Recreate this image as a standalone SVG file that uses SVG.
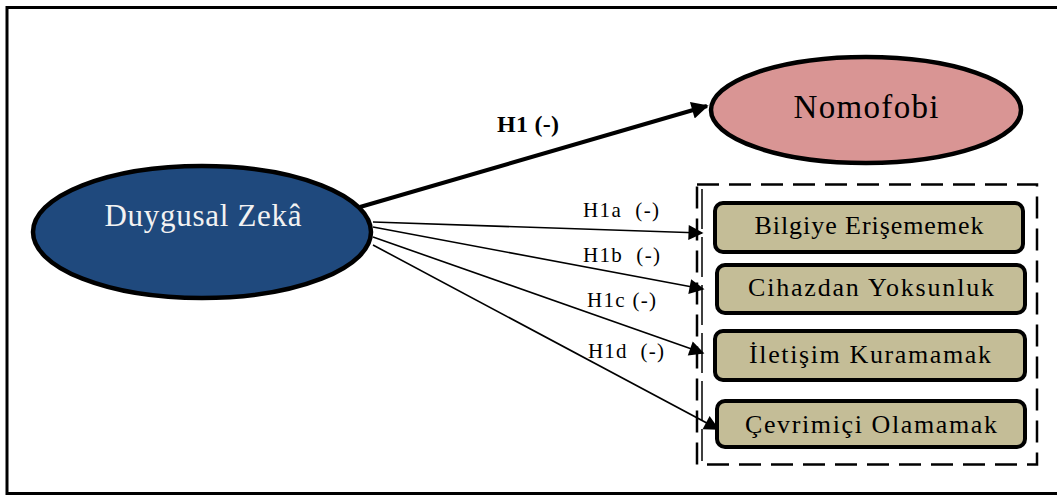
<svg xmlns="http://www.w3.org/2000/svg" width="1057" height="496" viewBox="0 0 1057 496">
<style>
.lbl{font-family:"Liberation Serif","Times New Roman",serif;fill:#000}
.node{font-family:"Liberation Serif","Times New Roman",serif;text-anchor:middle}
.box{fill:#c4bd97;stroke:#000;stroke-width:4}
.thin{stroke:#000;stroke-width:1.6;fill:none}
</style>
<defs>
<marker id="ah" viewBox="0 0 10 10" refX="9" refY="5" markerWidth="20" markerHeight="15" markerUnits="userSpaceOnUse" orient="auto">
<path d="M0,0 L10,5 L0,10 z" fill="#000"/>
</marker>
<marker id="ahb" viewBox="0 0 10 10" refX="9" refY="5" markerWidth="22" markerHeight="17" markerUnits="userSpaceOnUse" orient="auto">
<path d="M0,0 L10,5 L0,10 z" fill="#000"/>
</marker>
</defs>
<rect x="0" y="0" width="1057" height="496" fill="#fff"/>
<rect x="7" y="7.5" width="1065" height="486" fill="none" stroke="#000" stroke-width="3"/>
<g id="group-box">
<rect x="697" y="184.5" width="340" height="280" fill="none" stroke="#000" stroke-width="2.5" stroke-dasharray="22 10"/>
<line x1="702" y1="189" x2="702" y2="461" stroke="#000" stroke-width="1.5" stroke-dasharray="40 8"/>
</g>
<g id="connectors">
<line x1="360" y1="207" x2="707" y2="106" stroke="#000" stroke-width="4" marker-end="url(#ahb)"/>
<line class="thin" x1="373" y1="222" x2="702" y2="233" marker-end="url(#ah)"/>
<line class="thin" x1="373" y1="227" x2="703" y2="289" marker-end="url(#ah)"/>
<line class="thin" x1="373" y1="237" x2="703" y2="353" marker-end="url(#ah)"/>
<line class="thin" x1="373" y1="245" x2="718" y2="429" marker-end="url(#ah)"/>
<text class="lbl" x="497" y="132" font-size="24" font-weight="bold" textLength="62">H1 (-)</text>
<text class="lbl" x="583" y="217" font-size="21" textLength="76" xml:space="preserve">H1a  (-)</text>
<text class="lbl" x="583" y="262" font-size="21" textLength="77" xml:space="preserve">H1b  (-)</text>
<text class="lbl" x="587" y="307" font-size="21" textLength="69">H1c (-)</text>
<text class="lbl" x="588" y="358" font-size="21" textLength="76" xml:space="preserve">H1d  (-)</text>
</g>
<g id="duygusal">
<ellipse cx="202" cy="232" rx="169" ry="66" fill="#1f497d" stroke="#000" stroke-width="4.5"/>
<text class="node" x="203" y="226" font-size="31" fill="#f2f2f2" textLength="197">Duygusal Zekâ</text>
</g>
<g id="nomofobi">
<ellipse cx="866" cy="110" rx="155" ry="53" fill="#d99594" stroke="#000" stroke-width="4.5"/>
<text class="node" x="866" y="118" font-size="33" fill="#000" textLength="145">Nomofobi</text>
</g>
<g id="bilgiye">
<rect class="box" x="715" y="203" width="308" height="49" rx="8"/>
<text class="node" x="869" y="234" font-size="26" textLength="229">Bilgiye Erişememek</text>
</g>
<g id="cihazdan">
<rect class="box" x="717" y="265" width="308" height="48" rx="8"/>
<text class="node" x="871" y="296" font-size="26" textLength="246">Cihazdan Yoksunluk</text>
</g>
<g id="iletisim">
<rect class="box" x="715" y="331" width="310" height="49" rx="8"/>
<text class="node" x="870" y="363" font-size="26" textLength="242">İletişim Kuramamak</text>
</g>
<g id="cevrimici">
<rect class="box" x="717" y="401" width="308" height="46" rx="8"/>
<text class="node" x="871" y="433" font-size="26" textLength="252">Çevrimiçi Olamamak</text>
</g>
</svg>
